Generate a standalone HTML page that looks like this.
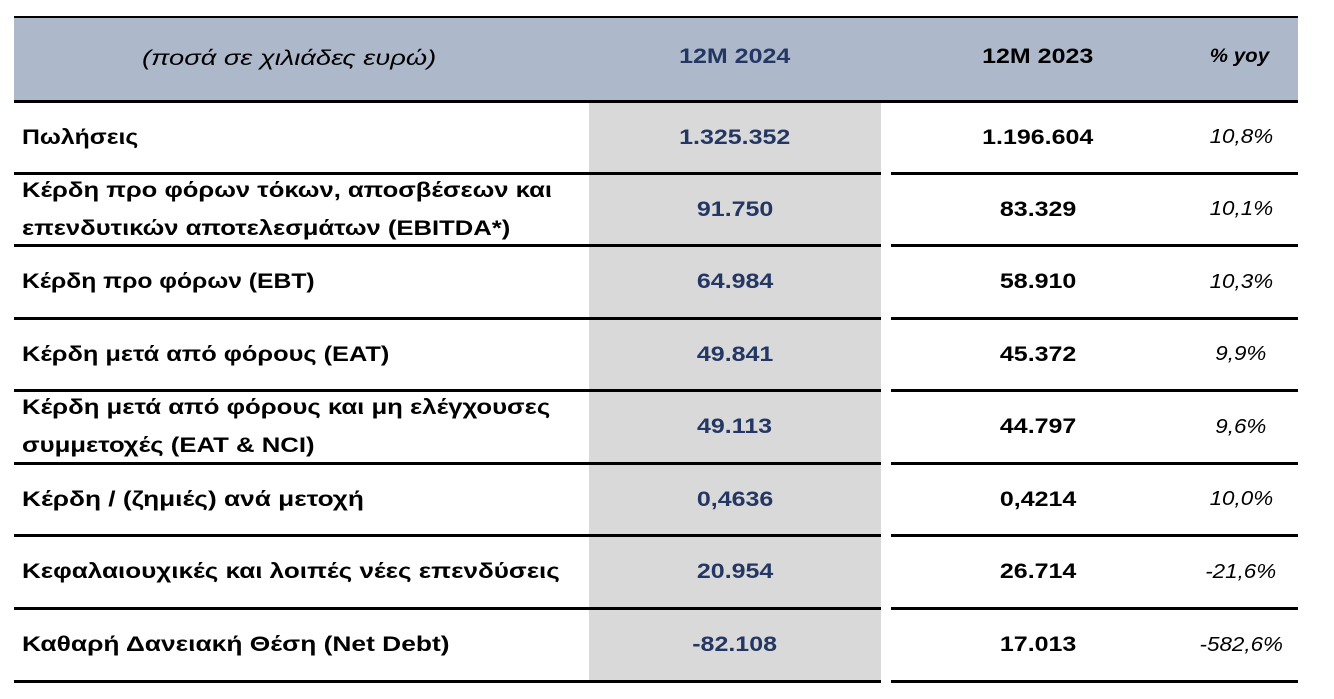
<!DOCTYPE html>
<html>
<head>
<meta charset="utf-8">
<style>
  html,body{margin:0;padding:0;background:#fff;}
  body{width:1334px;height:699px;position:relative;overflow:hidden;
    font-family:"Liberation Sans","DejaVu Sans",sans-serif;}
  .abs{position:absolute;}
  .hdr{left:14px;top:18px;width:1284px;height:82px;background:#adb9ca;}
  .gray{left:589px;top:102px;width:292px;height:578px;background:#d9d9d9;}
  .line{position:absolute;background:#000;}
  .cell{position:absolute;display:flex;align-items:center;}
  .lbl{left:22px;width:560px;font-weight:bold;font-size:21px;color:#000;line-height:38px;}
  .lbl span{display:inline-block;transform-origin:left center;white-space:nowrap;}
  .v1{left:589px;width:292px;justify-content:center;font-weight:bold;font-size:21px;color:#243764;}
  .v2{left:891px;width:294px;justify-content:center;font-weight:bold;font-size:21px;color:#000;}
  .v1 span,.v2 span{display:inline-block;transform:scaleX(1.19);white-space:nowrap;}
  .v3{left:1191px;width:100px;justify-content:center;font-style:italic;font-size:20px;color:#000;}
  .v3 span{display:inline-block;transform:scaleX(1.12);white-space:nowrap;}
</style>
</head>
<body>
  <div class="abs hdr"></div>
  <div class="abs gray"></div>

  <!-- header lines -->
  <div class="line" style="left:14px;top:16px;width:1284px;height:2px;"></div>
  <div class="line" style="left:14px;top:100px;width:1284px;height:3px;"></div>

  <!-- header text -->
  <div class="cell" style="left:14px;top:18px;width:560px;height:82px;justify-content:center;font-style:italic;font-size:21px;color:#000;">
    <span style="display:inline-block;transform:scaleX(1.3);margin-left:-9px;">(ποσά σε χιλιάδες ευρώ)</span></div>
  <div class="cell v1" style="top:18px;height:78px;"><span>12M 2024</span></div>
  <div class="cell v2" style="top:18px;height:78px;color:#000;"><span>12M 2023</span></div>
  <div class="cell" style="left:1191px;width:100px;top:18px;height:78px;justify-content:center;font-weight:bold;font-style:italic;font-size:19px;color:#000;">
    <span style="display:inline-block;transform:scaleX(1.08);margin-left:-3px;">% yoy</span></div>

  <!-- row separators -->
  <div class="line" style="left:14px;top:172px;width:867px;height:3px;"></div>
  <div class="line" style="left:891px;top:172px;width:407px;height:3px;"></div>
  <div class="line" style="left:14px;top:244px;width:867px;height:3px;"></div>
  <div class="line" style="left:891px;top:244px;width:407px;height:3px;"></div>
  <div class="line" style="left:14px;top:317px;width:867px;height:3px;"></div>
  <div class="line" style="left:891px;top:317px;width:407px;height:3px;"></div>
  <div class="line" style="left:14px;top:389px;width:867px;height:3px;"></div>
  <div class="line" style="left:891px;top:389px;width:407px;height:3px;"></div>
  <div class="line" style="left:14px;top:462px;width:867px;height:3px;"></div>
  <div class="line" style="left:891px;top:462px;width:407px;height:3px;"></div>
  <div class="line" style="left:14px;top:534px;width:867px;height:3px;"></div>
  <div class="line" style="left:891px;top:534px;width:407px;height:3px;"></div>
  <div class="line" style="left:14px;top:607px;width:867px;height:3px;"></div>
  <div class="line" style="left:891px;top:607px;width:407px;height:3px;"></div>
  <div class="line" style="left:14px;top:680px;width:867px;height:3px;"></div>
  <div class="line" style="left:891px;top:680px;width:407px;height:3px;"></div>

  <!-- Row 1 -->
  <div class="cell lbl" style="top:103px;height:69px;"><span style="transform:scaleX(1.18)">Πωλήσεις</span></div>
  <div class="cell v1" style="top:103px;height:69px;"><span>1.325.352</span></div>
  <div class="cell v2" style="top:103px;height:69px;"><span>1.196.604</span></div>
  <div class="cell v3" style="top:103px;height:69px;"><span>10,8%</span></div>

  <!-- Row 2 -->
  <div class="cell lbl" style="top:175px;height:69px;"><span style="transform:scaleX(1.22)">Κέρδη προ φόρων τόκων, αποσβέσεων και<br>επενδυτικών αποτελεσμάτων (EBITDA*)</span></div>
  <div class="cell v1" style="top:175px;height:69px;"><span>91.750</span></div>
  <div class="cell v2" style="top:175px;height:69px;"><span>83.329</span></div>
  <div class="cell v3" style="top:175px;height:69px;"><span>10,1%</span></div>

  <!-- Row 3 -->
  <div class="cell lbl" style="top:247px;height:70px;"><span style="transform:scaleX(1.176)">Κέρδη προ φόρων (EBT)</span></div>
  <div class="cell v1" style="top:247px;height:70px;"><span>64.984</span></div>
  <div class="cell v2" style="top:247px;height:70px;"><span>58.910</span></div>
  <div class="cell v3" style="top:247px;height:70px;"><span>10,3%</span></div>

  <!-- Row 4 -->
  <div class="cell lbl" style="top:320px;height:69px;"><span style="transform:scaleX(1.208)">Κέρδη μετά από φόρους (EAT)</span></div>
  <div class="cell v1" style="top:320px;height:69px;"><span>49.841</span></div>
  <div class="cell v2" style="top:320px;height:69px;"><span>45.372</span></div>
  <div class="cell v3" style="top:320px;height:69px;"><span>9,9%</span></div>

  <!-- Row 5 -->
  <div class="cell lbl" style="top:392px;height:70px;"><span style="transform:scaleX(1.225)">Κέρδη μετά από φόρους και μη ελέγχουσες<br>συμμετοχές (EAT &amp; NCI)</span></div>
  <div class="cell v1" style="top:392px;height:70px;"><span>49.113</span></div>
  <div class="cell v2" style="top:392px;height:70px;"><span>44.797</span></div>
  <div class="cell v3" style="top:392px;height:70px;"><span>9,6%</span></div>

  <!-- Row 6 -->
  <div class="cell lbl" style="top:465px;height:69px;"><span style="transform:scaleX(1.25)">Κέρδη / (ζημιές) ανά μετοχή</span></div>
  <div class="cell v1" style="top:465px;height:69px;"><span>0,4636</span></div>
  <div class="cell v2" style="top:465px;height:69px;"><span>0,4214</span></div>
  <div class="cell v3" style="top:465px;height:69px;"><span>10,0%</span></div>

  <!-- Row 7 -->
  <div class="cell lbl" style="top:537px;height:70px;"><span style="transform:scaleX(1.24)">Κεφαλαιουχικές και λοιπές νέες επενδύσεις</span></div>
  <div class="cell v1" style="top:537px;height:70px;"><span>20.954</span></div>
  <div class="cell v2" style="top:537px;height:70px;"><span>26.714</span></div>
  <div class="cell v3" style="top:537px;height:70px;"><span>-21,6%</span></div>

  <!-- Row 8 -->
  <div class="cell lbl" style="top:610px;height:70px;"><span style="transform:scaleX(1.255)">Καθαρή Δανειακή Θέση (Net Debt)</span></div>
  <div class="cell v1" style="top:610px;height:70px;"><span>-82.108</span></div>
  <div class="cell v2" style="top:610px;height:70px;"><span>17.013</span></div>
  <div class="cell v3" style="top:610px;height:70px;"><span>-582,6%</span></div>
</body>
</html>
